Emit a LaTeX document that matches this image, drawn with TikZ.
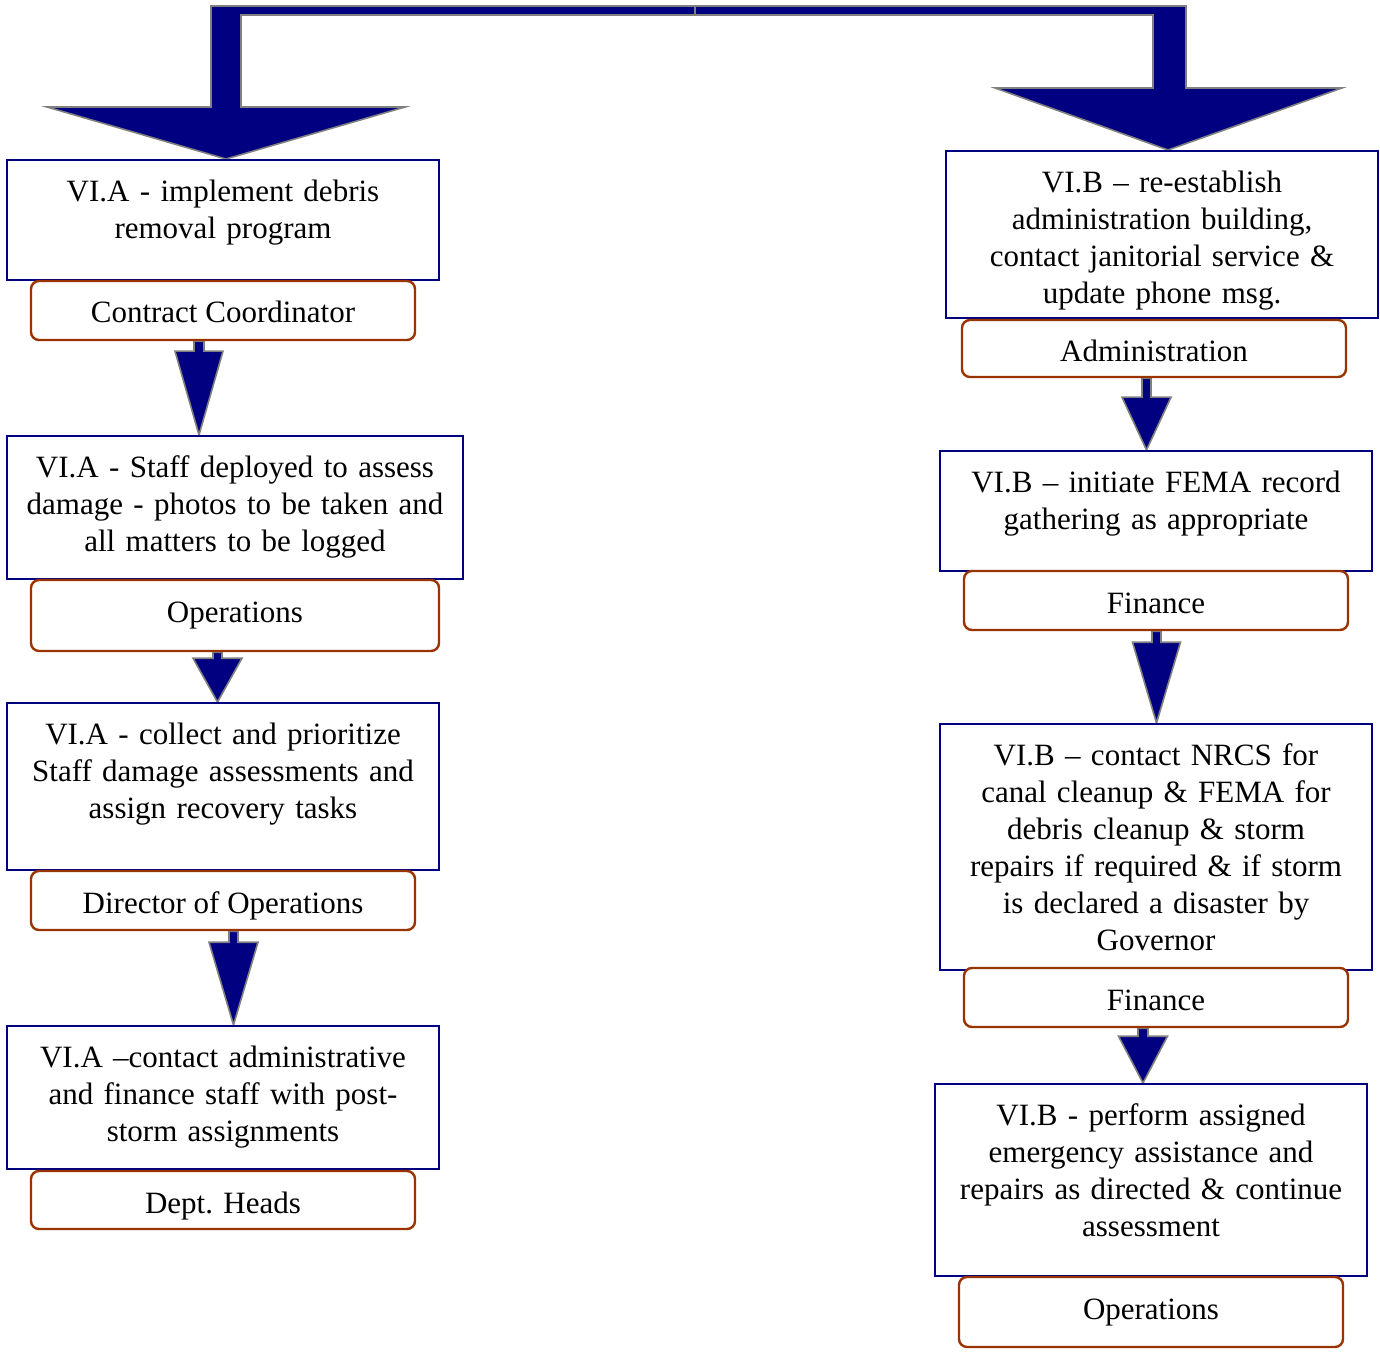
\documentclass[tikz,border=0pt]{standalone}
\usepackage{fontspec}
\setmainfont{Liberation Serif}
\usetikzlibrary{calc,backgrounds}
\definecolor{navyblue}{RGB}{0,0,128}
\definecolor{rust}{RGB}{153,51,0}
\definecolor{edgegray}{RGB}{128,128,128}

% block arrow: start, tip, stem half width, head half width, stem length
\newcommand\blockarrow[5]{%
  \filldraw[flowarrow] ($(#1)+(-#3,0)$) -- ($(#1)+(-#3,#5)$) -- ($(#1)+(-#4,#5)$)
    -- (#2) -- ($(#1)+(#4,#5)$) -- ($(#1)+(#3,#5)$) -- ($(#1)+(#3,0)$) -- cycle;}

\tikzset{
  taskbox/.style={rectangle, draw=navyblue, line width=1pt, fill=white, inner sep=0pt},
  tasktext/.style={anchor=base, align=center, text width=250pt, inner sep=0pt,
    font=\fontsize{15.5}{18.5}\selectfont},
  rolebox/.style={rectangle, draw=rust, line width=1.2pt, fill=white, rounded corners=4pt,
    inner sep=0pt, minimum width=192pt, text height=21pt,
    font=\fontsize{15.5}{18.5}\selectfont},
  flowarrow/.style={fill=navyblue, draw=edgegray, line width=0.8pt, line join=miter},
}

\begin{document}
\begin{tikzpicture}[x=0.5pt, y=-0.5pt]
\useasboundingbox (0,0) rectangle (1380,1352);

% ---- left column ----
\node[taskbox, minimum width=216pt, minimum height=60pt] (a1) at (223,220) {};
\node[tasktext] (a1t) at ($(a1.north)+(0,42.5)$) {VI.A - implement debris\\removal program};
\node[taskbox, minimum width=228pt, minimum height=71.5pt] (a2) at (235,507.5) {};
\node[tasktext] (a2t) at ($(a2.north)+(0,42.5)$) {VI.A - Staff deployed to assess\\damage - photos to be taken and\\all matters to be logged};
\node[taskbox, minimum width=216pt, minimum height=83.5pt] (a3) at (223,786.5) {};
\node[tasktext] (a3t) at ($(a3.north)+(0,42.5)$) {VI.A - collect and prioritize\\Staff damage assessments and\\assign recovery tasks};
\node[taskbox, minimum width=216pt, minimum height=71.5pt] (a4) at (223,1097.5) {};
\node[tasktext] (a4t) at ($(a4.north)+(0,42.5)$) {VI.A –contact administrative\\and finance staff with post-\\storm assignments};

\node[rolebox, minimum height=29.5pt, text depth=8.5pt] (a1l) at (223,310.5) {Contract Coordinator};
\node[rolebox, minimum width=204pt, minimum height=35.5pt, text depth=14.5pt] (a2l) at (235,615.5) {Operations};
\node[rolebox, minimum height=29.5pt, text depth=8.5pt] (a3l) at (223,900.5) {Director of Operations};
\node[rolebox, minimum height=29pt, text depth=8pt] (a4l) at (223,1200) {Dept. Heads};

% ---- right column ----
\node[taskbox, minimum width=216pt, minimum height=83.5pt] (b1) at (1162,234.5) {};
\node[tasktext] (b1t) at ($(b1.north)+(0,42.5)$) {VI.B – re-establish\\administration building,\\contact janitorial service \&\\update phone msg.};
\node[taskbox, minimum width=216pt, minimum height=60pt] (b2) at (1156,511) {};
\node[tasktext] (b2t) at ($(b2.north)+(0,42.5)$) {VI.B – initiate FEMA record\\gathering as appropriate};
\node[taskbox, minimum width=216pt, minimum height=123pt] (b3) at (1156,847) {};
\node[tasktext] (b3t) at ($(b3.north)+(0,42)$) {VI.B – contact NRCS for\\canal cleanup \& FEMA for\\debris cleanup \& storm\\repairs if required \& if storm\\is declared a disaster by\\Governor};
\node[taskbox, minimum width=216pt, minimum height=96pt] (b4) at (1151,1180) {};
\node[tasktext] (b4t) at ($(b4.north)+(0,42.5)$) {VI.B - perform assigned\\emergency assistance and\\repairs as directed \& continue\\assessment};

\node[rolebox, minimum height=28.5pt, text depth=7.5pt] (b1l) at (1154,348.5) {Administration};
\node[rolebox, minimum height=29.5pt, text depth=8.5pt] (b2l) at (1156,600.5) {Finance};
\node[rolebox, minimum height=29.5pt, text depth=8.5pt] (b3l) at (1156,997.5) {Finance};
\node[rolebox, minimum height=35pt, text depth=14pt] (b4l) at (1151,1312) {Operations};

% ---- connectors ----
\coordinate (split) at (695,6);
\coordinate (tipL) at (226,0 |- a1.north);
\coordinate (tipR) at (1168,0 |- b1.north);

\begin{scope}[on background layer]
  % split arrow from the top bar to both columns
  \filldraw[flowarrow] (split) -- (211,6) -- (211,107) -- (47,107) -- (tipL)
    -- (405,107) -- (241,107) -- (241,15) -- (695,15) -- cycle;
  \filldraw[flowarrow] (split) -- (1186,6) -- (1186,88) -- (1342,88) -- (tipR)
    -- (995,88) -- (1153,88) -- (1153,15) -- (695,15) -- cycle;

  \coordinate (s1) at (199,0 |- a1l.south);   \coordinate (t1) at (199,0 |- a2.north);
  \blockarrow{s1}{t1}{5}{24}{10}
  \coordinate (s2) at (217.5,0 |- a2l.south); \coordinate (t2) at (217.5,0 |- a3.north);
  \blockarrow{s2}{t2}{4.5}{24.5}{6}
  \coordinate (s3) at (233.5,0 |- a3l.south); \coordinate (t3) at (233.5,0 |- a4.north);
  \blockarrow{s3}{t3}{4.5}{24.5}{11}

  \coordinate (s4) at (1146.5,0 |- b1l.south); \coordinate (t4) at (1146.5,0 |- b2.north);
  \blockarrow{s4}{t4}{4.5}{24.5}{19}
  \coordinate (s5) at (1156.5,0 |- b2l.south); \coordinate (t5) at (1156.5,0 |- b3.north);
  \blockarrow{s5}{t5}{4.5}{24}{11}
  \coordinate (s6) at (1143,0 |- b3l.south);   \coordinate (t6) at (1143,0 |- b4.north);
  \blockarrow{s6}{t6}{5}{24.5}{8}
\end{scope}
\end{tikzpicture}
\end{document}
